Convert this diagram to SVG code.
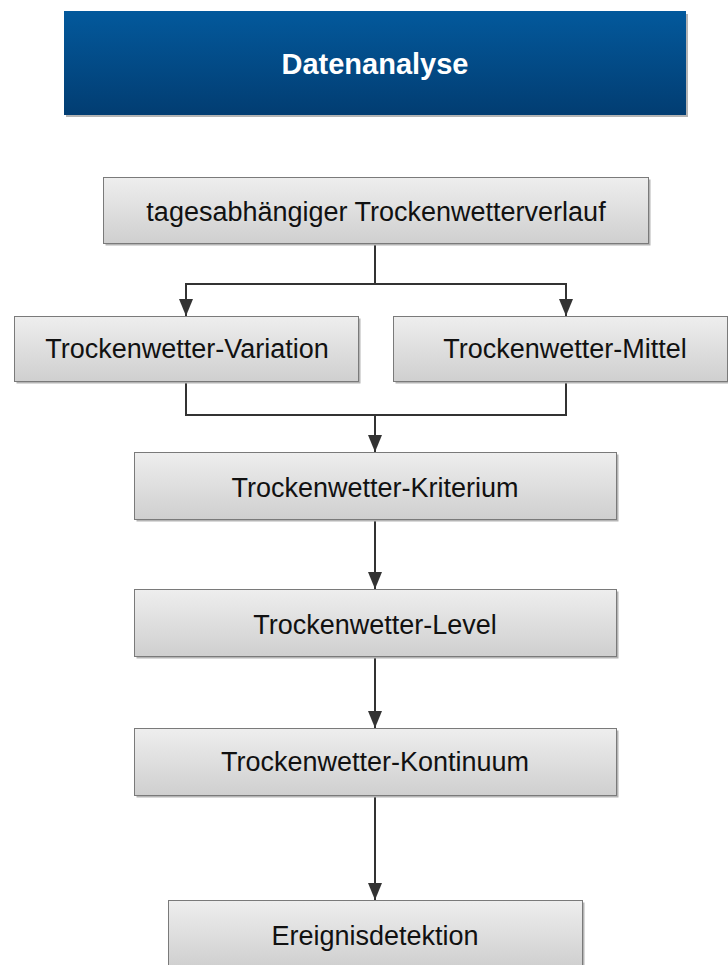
<svg xmlns="http://www.w3.org/2000/svg" width="728" height="965" viewBox="0 0 728 965">
  <defs>
    <linearGradient id="gHead" x1="0" y1="0" x2="0" y2="1">
      <stop offset="0" stop-color="#03599c"/>
      <stop offset="1" stop-color="#023d72"/>
    </linearGradient>
    <linearGradient id="gBox" x1="0" y1="0" x2="0" y2="1">
      <stop offset="0" stop-color="#eeeeee"/>
      <stop offset="1" stop-color="#cfcfcf"/>
    </linearGradient>
    <marker id="arr" viewBox="0 0 17 14" refX="17" refY="7" markerWidth="17" markerHeight="14" markerUnits="userSpaceOnUse" orient="auto">
      <path d="M0,0 L17,7 L0,14 Z" fill="#333333"/>
    </marker>
    <style>
      .shadow { fill: #b4b4b4; }
      .box { fill: url(#gBox); stroke: #7a7a7a; stroke-width: 1; }
      .lbl { font-family: "Liberation Sans", Arial, sans-serif; font-size: 27px; fill: #111111; text-anchor: middle; }
      .head { font-family: "Liberation Sans", Arial, sans-serif; font-size: 29px; font-weight: bold; fill: #ffffff; text-anchor: middle; }
      .edge { fill: none; stroke: #333333; stroke-width: 2; }
    </style>
  </defs>
  <rect width="728" height="965" fill="#ffffff"/>

  <g id="header">
    <rect class="shadow" x="66" y="14" width="622" height="103"/>
    <rect x="64" y="11" width="622" height="104" fill="url(#gHead)"/>
    <text class="head" x="375" y="74">Datenanalyse</text>
  </g>

  <g id="connectors">
    <path class="edge" d="M375,243 V284 H186 V316" marker-end="url(#arr)"/>
    <path class="edge" d="M375,284 H566 V316" marker-end="url(#arr)"/>
    <path class="edge" d="M186,381 V415 H566 V381"/>
    <path class="edge" d="M375,415 V452" marker-end="url(#arr)"/>
    <path class="edge" d="M375,519 V589" marker-end="url(#arr)"/>
    <path class="edge" d="M375,657 V728" marker-end="url(#arr)"/>
    <path class="edge" d="M375,795 V900" marker-end="url(#arr)"/>
  </g>

  <g id="verlauf">
    <rect class="shadow" x="105.5" y="179.5" width="545" height="66"/>
    <rect class="box" x="103.5" y="177.5" width="545" height="66"/>
    <text class="lbl" x="376" y="221">tagesabhängiger Trockenwetterverlauf</text>
  </g>

  <g id="variation">
    <rect class="shadow" x="16.5" y="318.5" width="344" height="65"/>
    <rect class="box" x="14.5" y="316.5" width="344" height="65"/>
    <text class="lbl" x="187" y="358">Trockenwetter-Variation</text>
  </g>

  <g id="mittel">
    <rect class="shadow" x="395.5" y="318.5" width="334" height="65"/>
    <rect class="box" x="393.5" y="316.5" width="334" height="65"/>
    <text class="lbl" x="565" y="358">Trockenwetter-Mittel</text>
  </g>

  <g id="kriterium">
    <rect class="shadow" x="136.5" y="454.5" width="482" height="67"/>
    <rect class="box" x="134.5" y="452.5" width="482" height="67"/>
    <text class="lbl" x="375" y="497">Trockenwetter-Kriterium</text>
  </g>

  <g id="level">
    <rect class="shadow" x="136.5" y="591.5" width="482" height="67"/>
    <rect class="box" x="134.5" y="589.5" width="482" height="67"/>
    <text class="lbl" x="375" y="634">Trockenwetter-Level</text>
  </g>

  <g id="kontinuum">
    <rect class="shadow" x="136.5" y="730.5" width="482" height="67"/>
    <rect class="box" x="134.5" y="728.5" width="482" height="67"/>
    <text class="lbl" x="375" y="771">Trockenwetter-Kontinuum</text>
  </g>

  <g id="ereignis">
    <rect class="shadow" x="170.5" y="902.5" width="414" height="67"/>
    <rect class="box" x="168.5" y="900.5" width="414" height="67"/>
    <text class="lbl" x="375" y="945">Ereignisdetektion</text>
  </g>
</svg>
